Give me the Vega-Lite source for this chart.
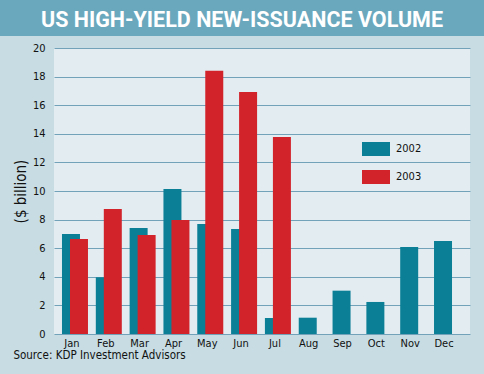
{
  "$schema": "https://vega.github.io/schema/vega-lite/v6.json",
  "padding": {"left": 0, "top": 0, "right": 0, "bottom": 12},
  "background": "#c7dce3",
  "config": {
    "view": {"stroke": null},
    "font": "DejaVu Sans Condensed, sans-serif"
  },
  "spacing": 6,
  "vconcat": [
    {
      "width": 484,
      "height": 36,
      "view": {"fill": "#6aa8be", "stroke": null},
      "data": {"values": [{"t": "US HIGH-YIELD NEW-ISSUANCE VOLUME"}]},
      "mark": {"type": "text", "color": "white", "fontSize": 21.5, "fontWeight": "bold", "font": "Roboto", "baseline": "middle", "align": "center", "dy": 2.5},
      "encoding": {"text": {"field": "t"}}
    },
    {
      "spacing": 0,
      "hconcat": [
        {
          "width": 13,
          "height": 286,
          "view": {"fill": null, "stroke": null},
          "data": {"values": []},
          "mark": {"type": "text"},
          "encoding": {}
        },
        {
          "width": 416,
          "height": 286,
          "view": {"fill": "#e3edf1", "stroke": null},
          "title": {"text": "Source: KDP Investment Advisors", "orient": "bottom", "anchor": "start", "frame": "bounds", "fontSize": 11.5, "fontWeight": "normal", "offset": 2, "color": "#111"},
          "data": {"values": [
            {"month": "Jan", "year": "2002", "value": 7.0},
            {"month": "Feb", "year": "2002", "value": 3.96},
            {"month": "Mar", "year": "2002", "value": 7.41},
            {"month": "Apr", "year": "2002", "value": 10.14},
            {"month": "May", "year": "2002", "value": 7.69},
            {"month": "Jun", "year": "2002", "value": 7.34},
            {"month": "Jul", "year": "2002", "value": 1.12},
            {"month": "Aug", "year": "2002", "value": 1.14},
            {"month": "Sep", "year": "2002", "value": 3.03},
            {"month": "Oct", "year": "2002", "value": 2.24},
            {"month": "Nov", "year": "2002", "value": 6.08},
            {"month": "Dec", "year": "2002", "value": 6.5},
            {"month": "Jan", "year": "2003", "value": 6.64},
            {"month": "Feb", "year": "2003", "value": 8.74},
            {"month": "Mar", "year": "2003", "value": 6.92},
            {"month": "Apr", "year": "2003", "value": 7.97},
            {"month": "May", "year": "2003", "value": 18.41},
            {"month": "Jun", "year": "2003", "value": 16.92},
            {"month": "Jul", "year": "2003", "value": 13.78}
          ]},
          "encoding": {
            "x": {
              "field": "month", "type": "ordinal",
              "sort": ["Jan", "Feb", "Mar", "Apr", "May", "Jun", "Jul", "Aug", "Sep", "Oct", "Nov", "Dec"],
              "scale": {"paddingInner": 0, "paddingOuter": 0.15},
              "axis": {"title": null, "labelAngle": 0, "ticks": false, "domain": false, "labelPadding": 3, "labelFontSize": 11, "labelColor": "#111", "labelOffset": -4}
            },
            "y": {
              "field": "value", "type": "quantitative",
              "scale": {"domain": [0, 20], "nice": false},
              "axis": {"title": "($ billion)", "titleFontSize": 15, "titleFontWeight": "normal", "titleColor": "#111", "titlePadding": 4, "values": [0, 2, 4, 6, 8, 10, 12, 14, 16, 18, 20], "grid": true, "gridColor": "#72a2ba", "gridWidth": 1, "domain": false, "ticks": false, "labelPadding": 9, "labelFontSize": 11, "labelColor": "#111"}
            },
            "color": {
              "field": "year", "type": "nominal",
              "scale": {"domain": ["2002", "2003"], "range": ["#0b7f96", "#d2232b"]},
              "legend": {"title": null, "orient": "none", "legendX": 362, "legendY": 135, "symbolType": "M-1,-0.5H1V0.5H-1Z", "symbolSize": 784, "symbolStrokeWidth": 0, "symbolOpacity": 1, "labelFontSize": 11, "labelColor": "#111", "labelOffset": 6, "rowPadding": 7, "padding": 0}
            }
          },
          "layer": [
            {"transform": [{"filter": "datum.year == '2002'"}], "mark": {"type": "bar", "width": 18, "xOffset": -5, "opacity": 1}},
            {"transform": [{"filter": "datum.year == '2003'"}], "mark": {"type": "bar", "width": 18, "xOffset": 3, "opacity": 1}}
          ]
        }
      ]
    }
  ]
}
